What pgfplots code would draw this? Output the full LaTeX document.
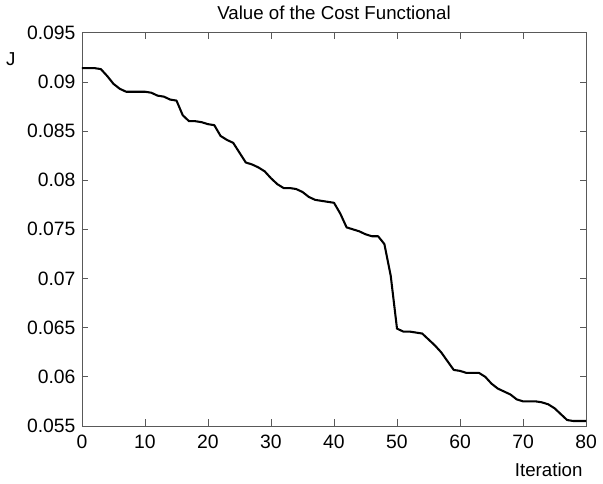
\documentclass[border=0pt]{standalone}
\usepackage{fontspec}
\setmainfont{Liberation Sans}
\usepackage{pgfplots}
\pgfplotsset{compat=1.18}
\begin{document}
\fontsize{14.5}{17}\selectfont
\begin{tikzpicture}
\begin{axis}[
  scale only axis,
  width=391pt, height=305pt,
  xmin=0, xmax=80, ymin=0.055, ymax=0.095,
  xtick={0,10,...,80},
  ytick={0.055,0.06,0.065,0.07,0.075,0.08,0.085,0.09,0.095},
  scaled y ticks=false,
  yticklabel style={/pgf/number format/fixed,/pgf/number format/precision=3},
  /pgf/number format/assume math mode=true,
  tick align=inside,
  major tick length=5pt,
  axis line style={gray!70!black, line width=0.6pt},
  tick style={gray!70!black, line width=0.6pt},
  ticklabel style={font=\fontsize{15}{17}\selectfont},
  xticklabel style={yshift=-2pt},
  clip=false,
]
\addplot[black, line width=1.6pt, line join=round] coordinates {
(0,0.0914)(1,0.0914)(2,0.0914)(3,0.0913)(4,0.0906)(5,0.0898)(6,0.0893)(7,0.0890)(8,0.0890)(9,0.0890)
(10,0.0890)(11,0.0889)(12,0.0886)(13,0.0885)(14,0.0882)(15,0.0881)(16,0.0866)(17,0.0860)(18,0.0860)(19,0.0859)
(20,0.0857)(21,0.0856)(22,0.0845)(23,0.0841)(24,0.0838)(25,0.0828)(26,0.0818)(27,0.0816)(28,0.0813)(29,0.0809)
(30,0.0802)(31,0.0796)(32,0.0792)(33,0.0792)(34,0.0791)(35,0.0788)(36,0.0783)(37,0.0780)(38,0.0779)(39,0.0778)
(40,0.0777)(41,0.0766)(42,0.0752)(43,0.0750)(44,0.0748)(45,0.0745)(46,0.0743)(47,0.0743)(48,0.0735)(49,0.0703)
(50,0.0649)(51,0.0646)(52,0.0646)(53,0.0645)(54,0.0644)(55,0.0638)(56,0.0632)(57,0.0625)(58,0.0616)(59,0.0607)
(60,0.0606)(61,0.0604)(62,0.0604)(63,0.0604)(64,0.0600)(65,0.0593)(66,0.0588)(67,0.0585)(68,0.0582)(69,0.0577)
(70,0.0575)(71,0.0575)(72,0.0575)(73,0.0574)(74,0.0572)(75,0.0568)(76,0.0562)(77,0.0556)(78,0.0555)(79,0.0555)
(80,0.0555)
};
\node[anchor=center] at (rel axis cs:0.5,1.05) {Value of the Cost Functional};
\node[anchor=center] at (rel axis cs:-0.141,0.933) {J};
\node[anchor=center] at (rel axis cs:0.926,-0.112) {Iteration};
\end{axis}
\end{tikzpicture}
\end{document}
